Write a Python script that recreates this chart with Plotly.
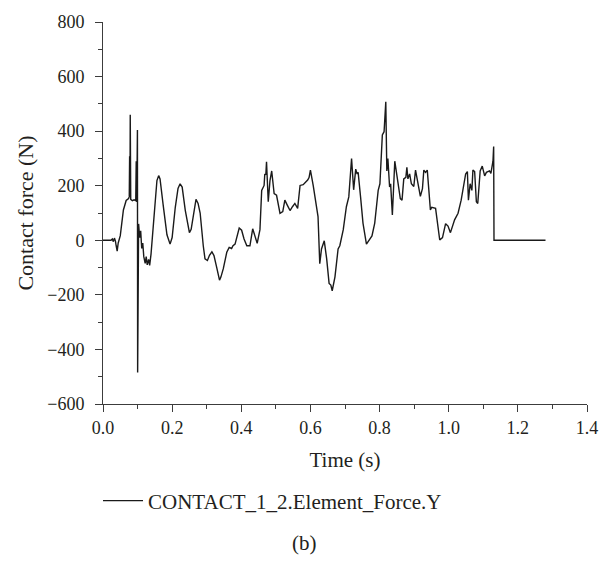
import plotly.graph_objects as go

# Contact force history of CONTACT_1_2 (Y component)
time_s = [
    0.000, 0.023, 0.027, 0.030, 0.033, 0.036, 0.038, 0.041, 0.044, 0.050,
    0.059, 0.067, 0.074, 0.076, 0.077, 0.078, 0.0788, 0.0802, 0.085, 0.090,
    0.0947, 0.0961, 0.0976, 0.0996, 0.1002, 0.103, 0.106, 0.109, 0.112, 0.115,
    0.118, 0.122, 0.125, 0.128, 0.132, 0.135, 0.139, 0.146, 0.151, 0.156,
    0.161, 0.165, 0.174, 0.185, 0.194, 0.200, 0.209, 0.217, 0.223, 0.229,
    0.238, 0.250, 0.255, 0.264, 0.269, 0.275, 0.281, 0.290, 0.295, 0.302,
    0.308, 0.315, 0.321, 0.329, 0.337, 0.341, 0.348, 0.358, 0.365, 0.372,
    0.376, 0.382, 0.388, 0.394, 0.401, 0.408, 0.416, 0.425, 0.433, 0.438,
    0.446, 0.454, 0.459, 0.466, 0.468, 0.471, 0.473, 0.478, 0.483, 0.488,
    0.495, 0.502, 0.512, 0.520, 0.526, 0.533, 0.541, 0.548, 0.555, 0.563,
    0.570, 0.579, 0.587, 0.592, 0.596, 0.600, 0.608, 0.618, 0.622, 0.627,
    0.632, 0.640, 0.647, 0.654, 0.659, 0.663, 0.671, 0.680, 0.685, 0.695,
    0.704, 0.711, 0.719, 0.725, 0.731, 0.735, 0.738, 0.745, 0.752, 0.762,
    0.772, 0.778, 0.786, 0.796, 0.801, 0.808, 0.813, 0.818, 0.821, 0.824,
    0.829, 0.832, 0.837, 0.844, 0.853, 0.860, 0.865, 0.870, 0.876, 0.879,
    0.882, 0.887, 0.892, 0.899, 0.904, 0.911, 0.918, 0.924, 0.928, 0.933,
    0.938, 0.947, 0.951, 0.962, 0.974, 0.982, 0.991, 0.998, 1.005, 1.017,
    1.027, 1.036, 1.049, 1.054, 1.057, 1.062, 1.067, 1.070, 1.075, 1.080,
    1.084, 1.091, 1.097, 1.104, 1.109, 1.118, 1.122, 1.128, 1.130, 1.131,
    1.280,
]
force_n = [
    0, 0, 5, -5, 8, -3, -20, -40, -10, 17,
    111, 146, 153, 160, 308, 160, 460, 150, 145, 148,
    145, 290, 140, 404, -485, 60, 10, 35, -30, -10,
    -60, -85, -60, -90, -70, -92, -50, 60, 160, 219,
    237, 225, 130, 20, -14, 10, 120, 190, 207, 195,
    110, 28, 40, 120, 150, 135, 100, -20, -68, -74,
    -55, -42, -56, -100, -146, -135, -104, -44, -26, -30,
    -20, -14, 15, 45, 37, 5, -20, -20, 42, 18,
    -11, 39, 183, 201, 243, 240, 288, 141, 219, 254,
    171, 165, 99, 105, 147, 129, 109, 123, 135, 117,
    201, 204, 213, 221, 230, 257, 201, 105, 87, -86,
    -32, -2, -68, -158, -164, -185, -134, -32, -20, 39,
    123, 159, 300, 185, 261, 243, 249, 159, 63, -14,
    4, 16, 63, 183, 207, 386, 398, 508, 254, 300,
    195, 207, 93, 290, 213, 153, 147, 225, 231, 267,
    225, 243, 207, 197, 257, 213, 161, 189, 257, 249,
    257, 111, 121, 117, 1, 10, 61, 52, 28, 75,
    99, 147, 243, 252, 147, 207, 183, 257, 252, 141,
    135, 254, 272, 236, 249, 254, 245, 290, 344, 0,
    0,
]

x_ticks = [0.0, 0.2, 0.4, 0.6, 0.8, 1.0, 1.2, 1.4]
x_tick_text = ["0.0", "0.2", "0.4", "0.6", "0.8", "1.0", "1.2", "1.4"]
y_ticks = [-600, -400, -200, 0, 200, 400, 600, 800]
y_tick_text = ["\u2212600", "\u2212400", "\u2212200", "0", "200", "400", "600", "800"]

series_name = "CONTACT_1_2.Element_Force.Y"
panel_label = "(b)"

INK = "#231f20"
AXIS = "#3c3c3c"
FONT = "Liberation Serif"
TICK_SIZE = 18
TEXT_SIZE = 21

# plot-area geometry in pixels (used to place the items under the axes)
W, H = 610, 561
PLOT_LEFT, PLOT_TOP, PLOT_W, PLOT_H = 103, 14, 485, 390
PLOT_BOTTOM = PLOT_TOP + PLOT_H

fig = go.Figure()
fig.add_trace(go.Scatter(
    x=time_s, y=force_n, mode="lines", name=series_name,
    line=dict(color="#1a1a1a", width=1.4),
))

axis_common = dict(
    showline=True, linecolor=AXIS, linewidth=1,
    ticks="outside", ticklen=7, tickwidth=1, tickcolor=AXIS,
    showgrid=False, zeroline=False, mirror=False,
    tickfont=dict(family=FONT, size=TICK_SIZE, color=INK),
)

fig.update_layout(
    width=W, height=H,
    margin=dict(l=PLOT_LEFT, r=W - PLOT_LEFT - PLOT_W, t=PLOT_TOP, b=H - PLOT_BOTTOM),
    paper_bgcolor="white", plot_bgcolor="white",
    font=dict(family=FONT, size=TEXT_SIZE, color=INK),
    xaxis=dict(
        range=[0, 1.4], tickvals=x_ticks, ticktext=x_tick_text,
        minor=dict(dtick=0.1, ticks="outside", ticklen=4, tickcolor=AXIS, tickwidth=1),
        title=dict(text="Time (s)", font=dict(family=FONT, size=TEXT_SIZE, color=INK), standoff=15),
        **axis_common,
    ),
    yaxis=dict(
        range=[-600, 800], tickvals=y_ticks, ticktext=y_tick_text,
        minor=dict(dtick=100, ticks="outside", ticklen=4, tickcolor=AXIS, tickwidth=1),
        title=dict(text="Contact force (N)", font=dict(family=FONT, size=22, color=INK), standoff=7),
        ticklabelstandoff=7,
        **axis_common,
    ),
    showlegend=True,
    legend=dict(
        orientation="h", x=-5 / PLOT_W, xanchor="left",
        y=-(503 - PLOT_BOTTOM) / PLOT_H, yanchor="middle",
        itemwidth=40,
        font=dict(family=FONT, size=TEXT_SIZE, color=INK), bgcolor="rgba(0,0,0,0)",
    ),
    annotations=[dict(
        text=panel_label, xref="paper", yref="paper",
        x=(305 - PLOT_LEFT) / PLOT_W, y=-(546 - PLOT_BOTTOM) / PLOT_H,
        xanchor="center", yanchor="middle", showarrow=False,
        font=dict(family=FONT, size=TEXT_SIZE, color=INK),
    )],
)

fig.write_html("out.html")
